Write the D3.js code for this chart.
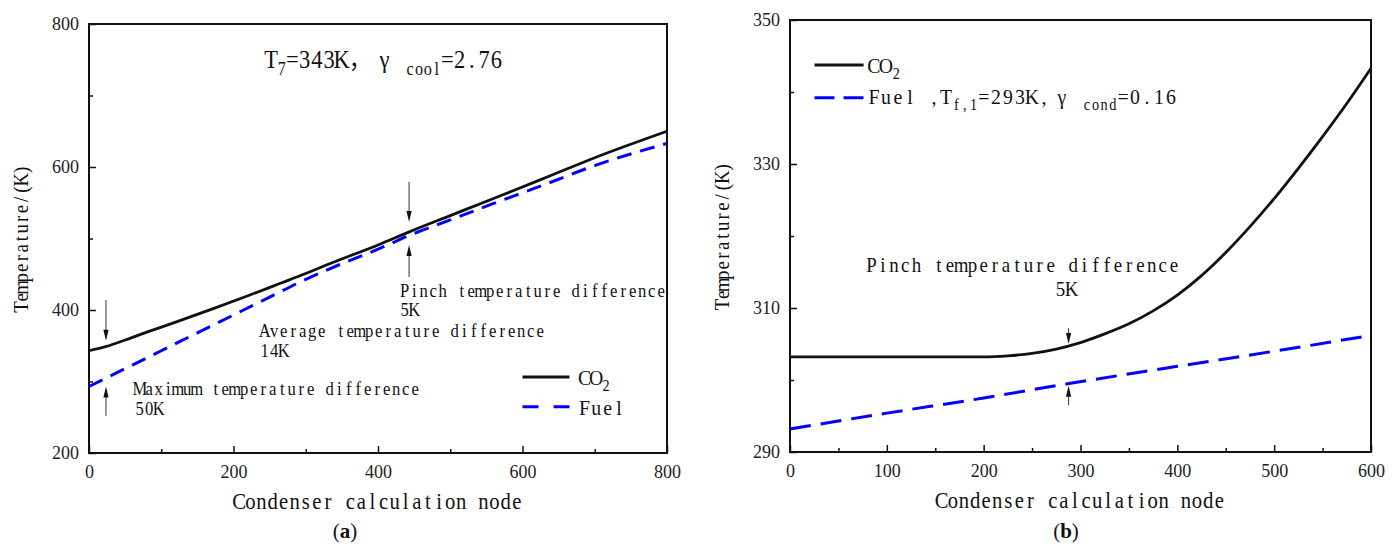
<!DOCTYPE html>
<html>
<head>
<meta charset="utf-8">
<script src="https://cdn.jsdelivr.net/npm/d3@7"></script>
<style>
  body { margin: 0; background: #fff; }
  svg { display: block; }
  .tick text { font-family: "Liberation Serif", serif; font-size: 18px; fill: #222; }
</style>
</head>
<body>
<div id="wrapper"></div>
<script>

// ---- data ----

// (a) condenser, whole range
const nodesCo2A = [0, 24, 50, 80, 120, 172, 220, 264, 300, 334, 400, 445, 500, 560, 627, 700, 800];
const co2A      = [343, 349, 358, 369, 383, 402, 420, 437, 451, 465, 491, 510, 532, 556, 583, 613, 650];
const nodesFuelA = [0, 24, 60, 100, 150, 200, 250, 290, 334, 400, 445, 500, 560, 627, 700, 800];
const fuelA      = [293, 305, 323, 343, 368, 393, 418, 438, 458, 485, 505, 526, 549, 574, 602, 633];

// (b) condensing section
const nodesCo2B = [0, 100, 200, 225, 250, 275, 300, 325, 350, 375, 400, 425, 450, 475, 500, 525, 550, 575, 600];
const co2B      = [303.2, 303.2, 303.2, 303.35, 303.7, 304.3, 305.2, 306.4, 307.8, 309.6, 311.8, 314.5, 317.7, 321.3, 325.2, 329.4, 333.8, 338.4, 343.3];
const nodesFuelB = [0, 100, 200, 288, 400, 500, 600];
const fuelB      = [293.2, 295.4, 297.5, 299.5, 301.9, 304.0, 306.2];

// ticks
const xTicksA = [0, 200, 400, 600, 800];
const xMinorA = [100, 300, 500, 700];
const yTicksA = [200, 400, 600, 800];
const yMinorA = [300, 500, 700];
const xTicksB = [0, 100, 200, 300, 400, 500, 600];
const xMinorB = [50, 150, 250, 350, 450, 550];
const yTicksB = [290, 310, 330, 350];
const yMinorB = [300, 320, 340];

// texts
const xTitle = "Condenser calculation node";
const yTitle = "Temperature/(K)";
const legendNames = ["CO", "Fuel"];
const notesA = [
  ["Pinch temperature difference", "5K"],
  ["Average temperature difference", "14K"],
  ["Maximum temperature difference", "50K"]
];
const notesB = ["Pinch temperature difference", "5K"];

// ---- drawing ----

const svg = d3.select("#wrapper")
  .append("svg")
  .attr("width", 1399)
  .attr("height", 547);

const BLUE = "#0000ff";
const INK = "#111";

const isWide = c => c === "γ" || c.charCodeAt(0) > 0x2e80;

// SimSun-like text: serif glyphs, one fixed cell per character
function simText(g, x, y, parts, fs, cell, opts = {}) {
  const sx = opts.squeeze || 0.9;
  let pos = 0;
  const runs = [];
  parts.forEach(p => {
    const [s, sub] = Array.isArray(p) ? p : [p, 0];
    const k = sub ? 0.72 : 1;
    const xs = [];
    let chars = "";
    for (const c of s) {
      const w = (isWide(c) ? 2 : 1) * cell * k;
      if (c !== " ") { xs.push(pos + w / 2); chars += c; }
      pos += w;
    }
    runs.push({ chars, xs, sub });
  });
  const off = opts.anchor === "middle" ? -pos / 2 : 0;
  const rot = opts.rotate ? ` rotate(${opts.rotate})` : "";
  const holder = g.append("g")
    .attr("transform", `translate(${x},${y})${rot} scale(${sx},1)`);
  const text = holder.append("text")
    .attr("font-family", "'Liberation Serif', 'Noto Sans CJK SC', serif")
    .attr("font-size", fs)
    .attr("fill", INK)
    .attr("text-anchor", "middle");
  let shifted = 0;
  runs.forEach(r => {
    if (!r.chars) return;
    const ts = text.append("tspan")
      .attr("x", r.xs.map(v => (v + off) / sx).join(" "))
      .text(r.chars);
    if (r.sub) {
      ts.attr("font-size", fs * 0.72).attr("dy", fs * 0.28 - shifted);
      shifted = fs * 0.28;
    } else if (shifted) {
      ts.attr("dy", -shifted);
      shifted = 0;
    }
  });
  return text;
}

function arrow(g, x, y1, y2) {
  const dir = y2 > y1 ? 1 : -1;
  g.append("line")
    .attr("x1", x).attr("x2", x)
    .attr("y1", y1).attr("y2", y2 - dir * 8)
    .attr("stroke", "#333").attr("stroke-width", 1);
  g.append("path")
    .attr("d", `M${x},${y2} L${x - 2.6},${y2 - dir * 11} L${x + 2.6},${y2 - dir * 11} Z`)
    .attr("fill", INK);
}

function drawPanel(cfg) {
  const g = svg.append("g");
  const x = d3.scaleLinear().domain(cfg.xDomain).range([cfg.left, cfg.right]);
  const y = d3.scaleLinear().domain(cfg.yDomain).range([cfg.bottom, cfg.top]);

  // axes, ticks pointing inward
  g.append("g")
    .attr("transform", `translate(0,${cfg.bottom})`)
    .call(d3.axisBottom(x).tickValues(cfg.xTicks).tickSize(-7).tickPadding(12).tickFormat(d3.format("d")));
  g.append("g")
    .attr("transform", `translate(0,${cfg.bottom})`)
    .call(d3.axisBottom(x).tickValues(cfg.xMinor).tickSize(-4).tickFormat(""));
  g.append("g")
    .attr("transform", `translate(${cfg.left},0)`)
    .call(d3.axisLeft(y).tickValues(cfg.yTicks).tickSize(-7).tickPadding(10).tickFormat(d3.format("d")));
  g.append("g")
    .attr("transform", `translate(${cfg.left},0)`)
    .call(d3.axisLeft(y).tickValues(cfg.yMinor).tickSize(-4).tickFormat(""));
  g.selectAll(".domain").remove();
  g.selectAll(".tick line").attr("stroke", INK).attr("stroke-width", 1.5);

  g.append("rect")
    .attr("x", cfg.left).attr("y", cfg.top)
    .attr("width", cfg.right - cfg.left).attr("height", cfg.bottom - cfg.top)
    .attr("fill", "none").attr("stroke", INK).attr("stroke-width", 2);

  const line = d3.line()
    .x(d => x(d[0]))
    .y(d => y(d[1]))
    .curve(d3.curveMonotoneX);

  g.append("path")
    .attr("d", line(d3.zip(cfg.fuelNodes, cfg.fuel)))
    .attr("fill", "none")
    .attr("stroke", BLUE)
    .attr("stroke-width", 3)
    .attr("stroke-dasharray", cfg.dash);

  g.append("path")
    .attr("d", line(d3.zip(cfg.co2Nodes, cfg.co2)))
    .attr("fill", "none")
    .attr("stroke", INK)
    .attr("stroke-width", 2.8);

  // axis titles and panel letter
  simText(g, (cfg.left + cfg.right) / 2, cfg.bottom + 56, [xTitle], 23, 11.1, { anchor: "middle" });
  simText(g, cfg.left - 61, (cfg.top + cfg.bottom) / 2, [yTitle], 21, 9.8, { anchor: "middle", rotate: -90 });

  const letter = g.append("text")
    .attr("x", cfg.letterX).attr("y", 538)
    .attr("text-anchor", "middle")
    .attr("font-family", "'Liberation Serif', serif")
    .attr("font-size", 21)
    .attr("fill", INK);
  letter.append("tspan").text("(");
  letter.append("tspan").attr("font-weight", "bold").text(cfg.letter);
  letter.append("tspan").text(")");

  return { g, x, y };
}

// ---- panel (a) ----
const A = drawPanel({
  left: 89, right: 667, top: 24, bottom: 453,
  xDomain: [0, 800], yDomain: [200, 800],
  xTicks: xTicksA, xMinor: xMinorA, yTicks: yTicksA, yMinor: yMinorA,
  co2Nodes: nodesCo2A, co2: co2A, fuelNodes: nodesFuelA, fuel: fuelA,
  dash: "15,9", letter: "a", letterX: 345
});

simText(A.g, A.x(243.6), A.y(738.5),
  ["T", ["7", 1], "=343K，", "γ", [" cool", 1], "=2.76"], 25, 12.3);

// legend (a)
A.g.append("line")
  .attr("x1", A.x(600)).attr("x2", A.x(665))
  .attr("y1", A.y(306.3)).attr("y2", A.y(306.3))
  .attr("stroke", INK).attr("stroke-width", 3);
A.g.append("line")
  .attr("x1", A.x(600)).attr("x2", A.x(665))
  .attr("y1", A.y(264.8)).attr("y2", A.y(264.8))
  .attr("stroke", BLUE).attr("stroke-width", 3).attr("stroke-dasharray", "16,15");
simText(A.g, A.x(678), A.y(295), [legendNames[0], ["2", 1]], 22, 11.5);
simText(A.g, A.x(678), A.y(253), [legendNames[1]], 22, 11.5);

// annotations (a)
const notePosA = [[430.4, 418.2, 391.6], [236.7, 362.2, 334.3], [63.7, 281, 253]];
notesA.forEach((n, i) => {
  const [nx, ty1, ty2] = notePosA[i];
  simText(A.g, A.x(nx), A.y(ty1), [n[0]], 18.5, 9.5);
  simText(A.g, A.x(nx), A.y(ty2), [n[1]], 18.5, 9.5);
});
arrow(A.g, A.x(443), A.y(579), A.y(523));
arrow(A.g, A.x(443), A.y(446), A.y(491));
arrow(A.g, A.x(23.5), A.y(414), A.y(357));
arrow(A.g, A.x(23.5), A.y(252), A.y(293));

// ---- panel (b) ----
const B = drawPanel({
  left: 790, right: 1371, top: 20, bottom: 452,
  xDomain: [0, 600], yDomain: [290, 350],
  xTicks: xTicksB, xMinor: xMinorB, yTicks: yTicksB, yMinor: yMinorB,
  co2Nodes: nodesCo2B, co2: co2B, fuelNodes: nodesFuelB, fuel: fuelB,
  dash: "21,10", letter: "b", letterX: 1066
});

// legend (b)
B.g.append("line")
  .attr("x1", B.x(25.3)).attr("x2", B.x(76))
  .attr("y1", B.y(343.75)).attr("y2", B.y(343.75))
  .attr("stroke", INK).attr("stroke-width", 3);
B.g.append("line")
  .attr("x1", B.x(25.3)).attr("x2", B.x(76))
  .attr("y1", B.y(339.2)).attr("y2", B.y(339.2))
  .attr("stroke", BLUE).attr("stroke-width", 3).attr("stroke-dasharray", "20,9");
simText(B.g, B.x(80.5), B.y(342.6), [legendNames[0], ["2", 1]], 22, 12);
simText(B.g, B.x(80.5), B.y(338.3),
  [legendNames[1] + " ,T", ["f,1", 1], "=293K,", "γ", [" cond", 1], "=0.16"], 22, 12);

// annotations (b)
simText(B.g, B.x(78.5), B.y(315), [notesB[0]], 21, 11.2);
simText(B.g, B.x(273.5), B.y(311.7), [notesB[1]], 21, 11.2);
arrow(B.g, B.x(287.7), B.y(307.2), B.y(305));
arrow(B.g, B.x(287.7), B.y(296.5), B.y(299.2));

</script>
</body>
</html>
